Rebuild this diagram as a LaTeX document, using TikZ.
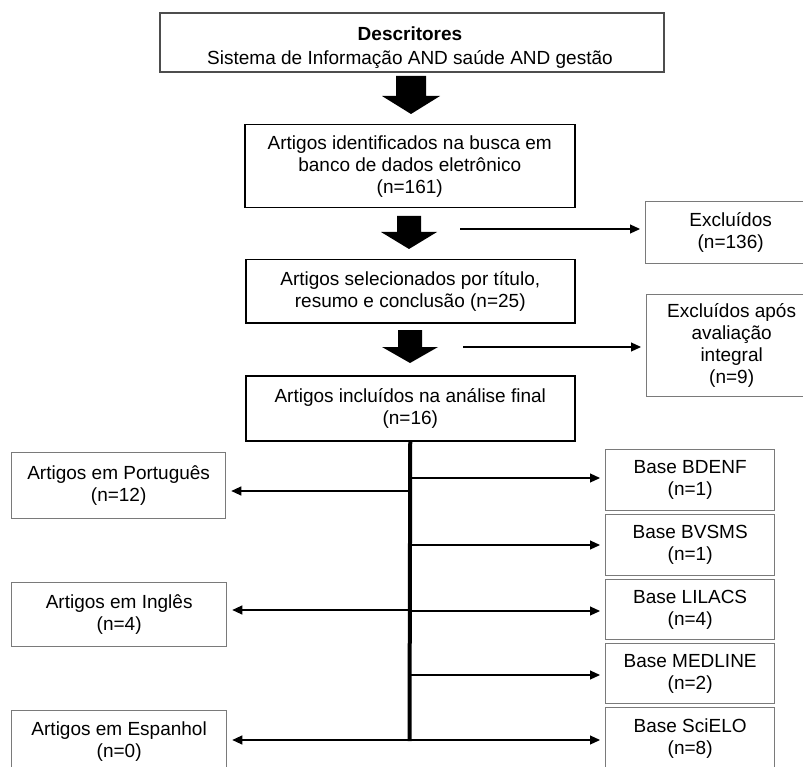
\documentclass[tikz,border=0pt]{standalone}
\usepackage{fontspec}
\setmainfont{Liberation Sans}
\usetikzlibrary{arrows.meta}
\definecolor{boxgray}{HTML}{7A7A7A}
\definecolor{topgray}{HTML}{4D4D4D}
\newcommand\blockarrowshape[6]{%
  \fill[black] ({#1-#5},#2) -- ({#1+#5},#2) -- ({#1+#5},#3) -- ({#1+#6},#3)
    -- (#1,#4) -- ({#1-#6},#3) -- ({#1-#5},#3) -- cycle;}
\tikzset{
  txt/.style={font=\fontsize{19}{22}\selectfont, align=center, inner sep=0pt},
  mainbox/.style={txt, draw=black, line width=1.5pt, anchor=north west},
  sidebox/.style={txt, draw=boxgray, line width=1.3pt, anchor=north west},
  thinarrow/.style={draw=black, line width=1.1pt, -{Triangle[length=10pt,width=9pt]}, shorten >=5pt},
  trunkline/.style={draw=black, line width=4pt}
}
\begin{document}
\begin{tikzpicture}[x=1pt,y=-1pt]
\useasboundingbox (0,0) rectangle (803,767);
\clip (0,0) rectangle (803,767);
\fill[white] (0,0) rectangle (803,767);

% top box
\node[txt, draw=topgray, line width=2pt, anchor=north west, minimum width=504pt, minimum height=59pt] (desc) at (159,12) {};
\node[txt, font=\fontsize{19}{24}\selectfont] (desctext) at (410,47.5) {\textbf{Descritores}\\Sistema de Informação AND saúde AND gestão};

\node[mainbox, minimum width=330pt, minimum height=83pt] (ident) at (244,124)
  {Artigos identificados na busca em\\banco de dados eletrônico\\(n=161)};
\node[mainbox, minimum width=329pt, minimum height=63pt] (sel) at (245,259)
  {Artigos selecionados por título,\\resumo e conclusão (n=25)};
\node[mainbox, minimum width=329pt, minimum height=65pt] (incl) at (245,375)
  {Artigos incluídos na análise final\\(n=16)};

\node[sidebox, minimum width=170pt, minimum height=62pt] (exc1) at (645,201)
  {Excluídos\\(n=136)};
\node[sidebox, minimum width=170pt, minimum height=102pt] (exc2) at (646,294)
  {Excluídos após\\avaliação\\integral\\(n=9)};

\node[sidebox, minimum width=214pt, minimum height=66pt] (port) at (11,452)
  {Artigos em Português\\(n=12)};
\node[sidebox, minimum width=215pt, minimum height=64pt] (ingl) at (11,582)
  {Artigos em Inglês\\(n=4)};
\node[sidebox, minimum width=215pt, minimum height=62pt] (esp) at (11,710)
  {Artigos em Espanhol\\(n=0)};

\node[sidebox, minimum width=169pt, minimum height=61pt] (bdenf) at (605,449)
  {Base BDENF\\(n=1)};
\node[sidebox, minimum width=169pt, minimum height=61pt] (bvsms) at (605,514)
  {Base BVSMS\\(n=1)};
\node[sidebox, minimum width=169pt, minimum height=60pt] (lilacs) at (605,579)
  {Base LILACS\\(n=4)};
\node[sidebox, minimum width=169pt, minimum height=60pt] (medline) at (605,643)
  {Base MEDLINE\\(n=2)};
\node[sidebox, minimum width=169pt, minimum height=62pt] (scielo) at (605,707)
  {Base SciELO\\(n=8)};

% block arrows
\blockarrowshape{411}{76}{96}{114}{15}{29}
\blockarrowshape{409}{216}{232}{249}{12}{28}
\blockarrowshape{410}{330}{347}{363}{12}{28}

% exclusion arrows
\coordinate (x1) at (460,229);
\coordinate (x2) at (463,347);
\draw[thinarrow] (x1) -- (x1 -| exc1.west);
\draw[thinarrow] (x2) -- (x2 -| exc2.west);

% trunk
\coordinate (tend) at (409.5,741);
\draw[trunkline] (incl.south) -- (tend);

\coordinate (r1) at (409.5,478);
\coordinate (r2) at (409.5,545);
\coordinate (r3) at (409.5,611);
\coordinate (r4) at (409.5,675);
\coordinate (r5) at (409.5,740);
\coordinate (l1) at (409.5,491);
\coordinate (l2) at (409.5,610);
\coordinate (l3) at (409.5,740);

\draw[thinarrow] (r1) -- (r1 -| bdenf.west);
\draw[thinarrow] (r2) -- (r2 -| bvsms.west);
\draw[thinarrow] (r3) -- (r3 -| lilacs.west);
\draw[thinarrow] (r4) -- (r4 -| medline.west);
\draw[thinarrow] (r5) -- (r5 -| scielo.west);
\draw[thinarrow] (l1) -- (l1 -| port.east);
\draw[thinarrow] (l2) -- (l2 -| ingl.east);
\draw[thinarrow] (l3) -- (l3 -| esp.east);
\end{tikzpicture}
\end{document}
